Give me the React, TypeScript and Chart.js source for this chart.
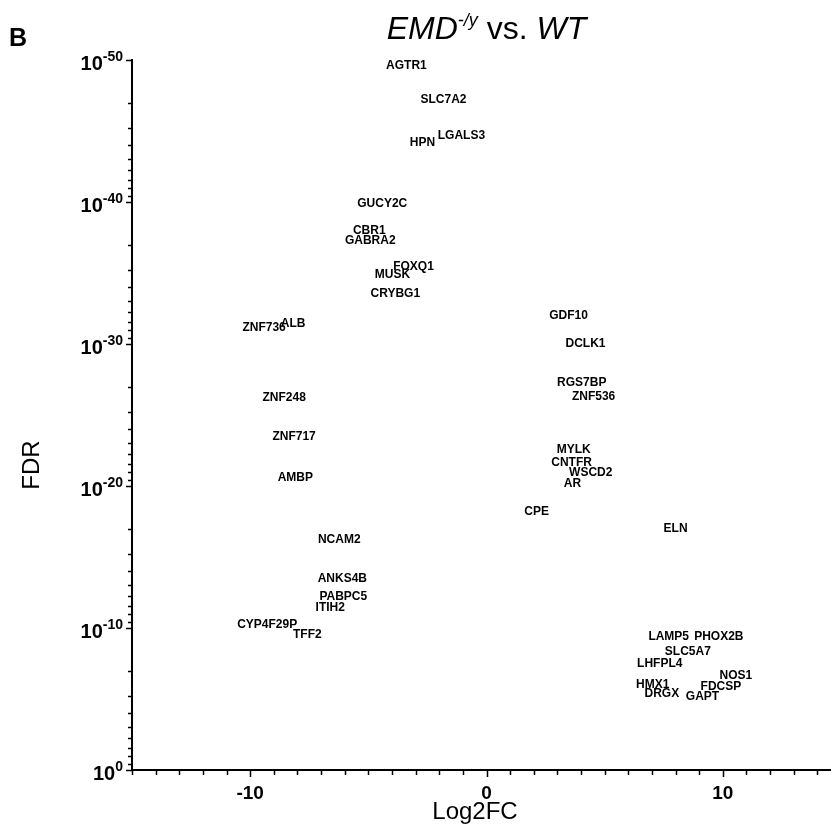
import React, { useEffect, useRef } from "react";
import { Chart, registerables } from "chart.js";

Chart.register(...registerables);

const genes = [
  "AGTR1", "SLC7A2", "HPN", "LGALS3", "GUCY2C", "CBR1", "GABRA2", "FOXQ1", "MUSK", "CRYBG1",
  "ZNF736", "ALB", "ZNF248", "ZNF717", "AMBP", "NCAM2", "ANKS4B", "PABPC5", "ITIH2", "CYP4F29P", "TFF2",
  "GDF10", "DCLK1", "RGS7BP", "ZNF536", "MYLK", "CNTFR", "WSCD2", "AR", "CPE", "ELN",
  "LAMP5", "PHOX2B", "SLC5A7", "LHFPL4", "NOS1", "HMX1", "FDCSP", "DRGX", "GAPT",
];
const log2FC = [
  -3.39, -1.82, -2.71, -1.06, -4.41, -4.96, -4.92, -3.09, -3.98, -3.86,
  -9.41, -8.18, -8.56, -8.14, -8.09, -6.23, -6.1, -6.06, -6.61, -9.28, -7.58,
  3.47, 4.19, 4.03, 4.53, 3.69, 3.6, 4.41, 3.64, 2.12, 8.0,
  7.71, 9.83, 8.52, 7.33, 10.55, 7.03, 9.92, 7.42, 9.14,
];
const negLog10FDR = [
  49.58, 47.18, 44.15, 44.65, 39.86, 37.96, 37.25, 35.42, 34.86, 33.52,
  31.13, 31.41, 26.2, 23.45, 20.56, 16.2, 13.45, 12.18, 11.41, 10.21, 9.51,
  31.97, 30.0, 27.25, 26.27, 22.54, 21.62, 20.92, 20.14, 18.17, 16.97,
  9.37, 9.37, 8.31, 7.46, 6.62, 5.99, 5.85, 5.35, 5.14,
];

const xMajorTicks = [-10, 0, 10];
const xTickLabels = ["-10", "0", "10"];
const yMajorTicks = [0, 10, 20, 30, 40, 50];
const yTickExponents = ["0", "-10", "-20", "-30", "-40", "-50"];

const FONT = "'Liberation Sans', Arial, sans-serif";

const drawPlugin = {
  id: "volcanoDecor",
  afterDraw(chart: any) {
    const ctx = chart.ctx as CanvasRenderingContext2D;
    const xs = chart.scales.x;
    const ys = chart.scales.y;
    const { left, right, top, bottom } = chart.chartArea;
    ctx.save();
    ctx.strokeStyle = "#000";
    ctx.fillStyle = "#000";
    ctx.lineWidth = 2;
    // axes
    ctx.beginPath();
    ctx.moveTo(left, top - 1);
    ctx.lineTo(left, bottom + 1);
    ctx.moveTo(left - 1, bottom);
    ctx.lineTo(right + 10, bottom);
    ctx.stroke();

    // y ticks
    ctx.lineWidth = 1.5;
    ctx.beginPath();
    for (const v of yMajorTicks) {
      const py = Math.round(ys.getPixelForValue(v)) + 0.5;
      ctx.moveTo(left - 6, py);
      ctx.lineTo(left, py);
    }
    for (let d = 10; d <= 50; d += 10) {
      for (let k = 2; k <= 9; k++) {
        const v = d - 10 * Math.log10(k);
        const py = Math.round(ys.getPixelForValue(v)) + 0.5;
        ctx.moveTo(left - 4, py);
        ctx.lineTo(left, py);
      }
    }
    // x ticks
    for (let v = -15; v <= 15; v++) {
      const px = Math.round(xs.getPixelForValue(v)) + 0.5;
      const major = v % 10 === 0;
      ctx.moveTo(px, bottom);
      ctx.lineTo(px, bottom + (major ? 7 : 5));
    }
    ctx.stroke();

    // y tick labels
    yMajorTicks.forEach((v, i) => {
      const py = ys.getPixelForValue(v);
      const exp = yTickExponents[i];
      ctx.font = `bold 14px ${FONT}`;
      const ew = ctx.measureText(exp).width;
      ctx.textAlign = "left";
      ctx.textBaseline = "alphabetic";
      const rightEdge = left - 9;
      ctx.fillText(exp, rightEdge - ew, py + 1);
      ctx.font = `bold 20px ${FONT}`;
      const bw = ctx.measureText("10").width;
      ctx.fillText("10", rightEdge - ew - bw, py + 10);
    });

    // x tick labels
    ctx.font = `bold 19px ${FONT}`;
    ctx.textAlign = "center";
    ctx.textBaseline = "alphabetic";
    xMajorTicks.forEach((v, i) => {
      ctx.fillText(xTickLabels[i], xs.getPixelForValue(v), bottom + 29);
    });

    // axis titles
    ctx.font = `24px ${FONT}`;
    ctx.fillText("Log2FC", 475, bottom + 49);
    ctx.save();
    ctx.translate(39, 465);
    ctx.rotate(-Math.PI / 2);
    ctx.textAlign = "center";
    ctx.fillText("FDR", 0, 0);
    ctx.restore();

    // panel letter
    ctx.font = `bold 25px ${FONT}`;
    ctx.textAlign = "left";
    ctx.fillText("B", 9, 46);

    // title
    const parts = [
      { t: "EMD", f: `italic 32px ${FONT}`, dy: 0 },
      { t: "-/y", f: `italic 18px ${FONT}`, dy: -13 },
      { t: " vs. ", f: `32px ${FONT}`, dy: 0 },
      { t: "WT", f: `italic 32px ${FONT}`, dy: 0 },
    ];
    let total = 0;
    for (const p of parts) {
      ctx.font = p.f;
      total += ctx.measureText(p.t).width;
    }
    let cx = (left + right) / 2 - total / 2;
    for (const p of parts) {
      ctx.font = p.f;
      ctx.fillText(p.t, cx, 39 + p.dy);
      cx += ctx.measureText(p.t).width;
    }

    // gene labels at each data point
    const meta = chart.getDatasetMeta(0);
    ctx.font = `bold 12px ${FONT}`;
    ctx.textAlign = "center";
    ctx.textBaseline = "middle";
    meta.data.forEach((el: any, i: number) => {
      ctx.fillText(genes[i], el.x, el.y);
    });
    ctx.restore();
  },
};

export default function App() {
  const ref = useRef<HTMLCanvasElement>(null);
  useEffect(() => {
    if (!ref.current) return;
    const chart = new Chart(ref.current, {
      type: "scatter",
      data: {
        datasets: [
          {
            label: "genes",
            data: log2FC.map((x, i) => ({ x, y: negLog10FDR[i] })),
            pointRadius: 0,
            pointHoverRadius: 0,
          },
        ],
      },
      options: {
        responsive: false,
        animation: false,
        events: [],
        layout: { padding: { left: 132, right: 4, top: 60, bottom: 61 } },
        plugins: { legend: { display: false }, tooltip: { enabled: false }, title: { display: false } },
        scales: {
          x: { type: "linear", min: -15, max: 15, display: false },
          y: { type: "linear", min: 0, max: 50, display: false },
        },
      },
      plugins: [drawPlugin],
    });
    return () => chart.destroy();
  }, []);
  return (
    <div style={{ position: "fixed", left: 0, top: 0, width: 831, height: 831, overflow: "hidden", background: "#fff" }}>
      <canvas ref={ref} width={845} height={831} style={{ display: "block" }} />
    </div>
  );
}
